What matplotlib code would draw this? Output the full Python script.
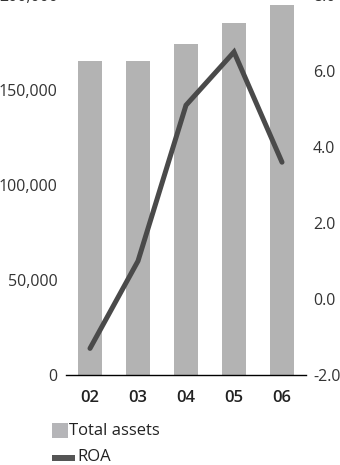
import matplotlib
matplotlib.use("Agg")
import matplotlib.pyplot as plt
from matplotlib.patches import Rectangle

years = ["02", "03", "04", "05", "06"]
total_assets = [165000, 165000, 174000, 185500, 194500]
roa = [-1.3, 1.0, 5.1, 6.5, 3.6]

left_ticks = [0, 50000, 100000, 150000, 200000]
right_ticks = [-2.0, 0.0, 2.0, 4.0, 6.0, 8.0]

plt.rcParams['font.family'] = ['Open Sans', 'DejaVu Sans']

W, H = 340, 465
fig = plt.figure(figsize=(W / 100, H / 100), dpi=100)

# axes box in pixels: x 66..306, y(bottom) 375, height 380
ax = fig.add_axes([66 / W, (H - 375) / H, 240 / W, 380 / H])
ax.set_zorder(1)
ax.patch.set_visible(False)

xs = list(range(len(years)))
ax.bar(xs, total_assets, width=0.52, color="#b3b3b3", zorder=1)
ax.set_xlim(-0.5, 4.5)
ax.set_ylim(0, 200000)
ax.set_yticks(left_ticks)
ax.set_yticklabels(["{:,}".format(v) for v in left_ticks])
ax.set_xticks(xs)
ax.set_xticklabels(years, fontweight="semibold")

for s in ["top", "left", "right"]:
    ax.spines[s].set_visible(False)
ax.spines["bottom"].set_color("black")
ax.spines["bottom"].set_linewidth(1.0)
ax.tick_params(axis="y", length=0, pad=6, labelsize=11.5, labelcolor="#333333")
ax.tick_params(axis="x", length=0, pad=11, labelsize=12, labelcolor="#222222")

ax2 = ax.twinx()
ax2.plot(xs, roa, color="#4a4a4a", linewidth=3.6, solid_capstyle="round",
         solid_joinstyle="miter", zorder=3)
ax2.set_ylim(-2.0, 8.0)
ax2.set_yticks(right_ticks)
ax2.set_yticklabels(["{:.1f}".format(v) for v in right_ticks])
for s in ["top", "left", "right", "bottom"]:
    ax2.spines[s].set_visible(False)
ax2.tick_params(axis="y", length=0, pad=5, labelsize=11.5, labelcolor="#333333")

# legend drawn in figure pixels
def px(x, y):
    return x / W, (H - y) / H

fig.add_artist(Rectangle(px(52, 438), 16 / W, 15 / H, transform=fig.transFigure,
                         color="#b5b5b8", lw=0))
fig.text(*px(69, 431), "Total assets", fontsize=12, color="#222222",
         va="center", ha="left")
fig.add_artist(Rectangle(px(52, 461), 23 / W, 6 / H, transform=fig.transFigure,
                         color="#555555", lw=0))
fig.text(*px(77, 457), "ROA", fontsize=12, color="#222222",
         va="center", ha="left")

fig.savefig("out.png", dpi=100)
